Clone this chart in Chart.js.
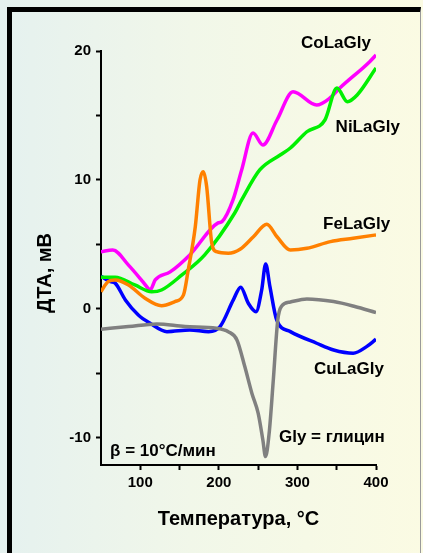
<!DOCTYPE html>
<html lang="ru">
<head>
<meta charset="utf-8">
<title>ДТА</title>
<script src="https://cdn.jsdelivr.net/npm/chart.js@4.4.1/dist/chart.umd.min.js"></script>
<style>
  html, body { margin: 0; padding: 0; }
  body {
    width: 423px; height: 553px; overflow: hidden; position: relative;
    background: linear-gradient(to right, #e5f1ef 0%, #f1f7e9 45%, #fbfbe3 100%);
  }
  #moldura {
    position: absolute; left: 7px; top: 7px; width: 408px; height: 560px;
    border-left: 5px solid #000; border-top: 5px solid #000; border-right: 1px solid #9a9a9a;
  }
  #g { position: absolute; left: 0; top: 0; }
</style>
</head>
<body>
<div id="moldura"></div>
<canvas id="g" width="423" height="553"></canvas>
<script>
// curvas de ДТА (x em °C, y em мВ)
const glyX = [50, 85, 121, 157, 197, 212, 223, 233, 242, 250, 256, 259.4, 264, 269, 275, 280, 291, 312, 346, 373, 400];
const glyY = [-1.57, -1.37, -1.16, -1.37, -1.5, -1.76, -2.4, -4.47, -6.53, -8.08, -10.16, -11.45, -9.64, -5.76, -0.85, 0.23, 0.54, 0.78, 0.57, 0.19, -0.28];

const feX = [50, 59, 68, 85, 106, 127, 144, 155, 161, 170, 176, 180.2, 184.5, 191, 197, 212, 227, 244, 261, 274, 291, 312, 342, 371, 400];
const feY = [1.34, 2.12, 2.25, 1.86, 0.83, 0.25, 0.57, 1.09, 3.02, 6.38, 10.0, 10.64, 9.48, 5.09, 4.44, 4.32, 4.63, 5.6, 6.57, 5.6, 4.57, 4.7, 5.22, 5.48, 5.74];

const niX = [50, 68, 93, 114.5, 127, 153, 182, 220, 229, 252, 278, 291, 312, 335, 350.3, 363.6, 376, 400];
const niY = [2.46, 2.46, 1.86, 1.34, 1.47, 2.64, 4.19, 7.42, 8.45, 10.78, 11.94, 12.48, 13.74, 14.65, 17.13, 16.07, 16.59, 18.68];

const coX = [50, 65, 85, 102, 110, 112.4, 119, 138, 163, 199, 204, 218, 229, 243.5, 256, 274, 294.4, 324.5, 341.5, 354, 392, 400];
const coY = [4.44, 4.57, 3.4, 2.2, 1.6, 1.45, 2.25, 2.87, 4.19, 6.67, 6.77, 8.45, 10.78, 13.64, 12.71, 14.65, 16.84, 15.81, 16.36, 17.13, 19.17, 19.69];

const cuX = [50, 62, 68, 81, 97.5, 112, 134, 163, 187, 201.5, 218.4, 227.8, 237.5, 247.3, 254.5, 259.6, 265, 273.6, 291, 324.5, 346, 371, 388, 400];
const cuY = [2.53, 2.12, 2.0, 0.7, -0.47, -1.09, -1.76, -1.63, -1.76, -1.37, 0.7, 1.69, 0.44, -0.21, 1.47, 3.49, 1.73, -0.85, -1.76, -2.66, -3.18, -3.43, -2.92, -2.35];

// eixos
const xTicks = [100, 150, 200, 250, 300, 350, 400];
const xLabels = [100, 200, 300, 400];
const yTicks = [-10, -5, 0, 5, 10, 15, 20];
const yLabels = [-10, 0, 10, 20];

// rótulos no gráfico (posição em unidades dos eixos)
const rotTxt = ['CoLaGly', 'NiLaGly', 'FeLaGly', 'CuLaGly', 'Gly = глицин', 'β = 10°C/мин'];
const rotX = [304.5, 348.6, 332.6, 321.1, 276.5, 61.5];
const rotY = [20.62, 14.1, 6.59, -4.65, -9.98, -11.06];

const FONTE = '"Liberation Sans", Arial, sans-serif';
const pts = (xs, ys) => xs.map((x, i) => ({ x, y: ys[i] }));
const serie = (label, xs, ys, cor) => ({
  label, data: pts(xs, ys), borderColor: cor, borderWidth: 3.5,
  pointRadius: 0, cubicInterpolationMode: 'monotone', fill: false,
});

const textos = {
  id: 'textos',
  afterDatasetsDraw(chart) {
    const { ctx, scales: { x, y } } = chart;
    ctx.save();
    ctx.fillStyle = '#000';
    ctx.textBaseline = 'middle';
    ctx.textAlign = 'left';
    ctx.font = 'bold 17px ' + FONTE;
    rotTxt.forEach((t, i) => ctx.fillText(t, x.getPixelForValue(rotX[i]), y.getPixelForValue(rotY[i])));
    ctx.font = 'bold 20px ' + FONTE;
    ctx.textAlign = 'center';
    ctx.fillText('Температура, °C', (x.left + x.right) / 2, 519);
    ctx.translate(45, 273);
    ctx.rotate(-Math.PI / 2);
    ctx.fillText('ДТА, мВ', 0, 0);
    ctx.restore();
  }
};

const eixo = (ticks, labels) => ({
  type: 'linear',
  border: { display: true, color: '#000', width: 2 },
  grid: { drawOnChartArea: false, drawTicks: true, tickLength: 5, tickWidth: 2, tickColor: '#000' },
  afterBuildTicks: (s) => { s.ticks = ticks.map(v => ({ value: v })); },
  ticks: {
    autoSkip: false, color: '#000', padding: 4,
    font: { family: FONTE, size: 15, weight: 'bold' },
    callback: (v) => labels.includes(v) ? String(v) : '',
  },
});

const sx = eixo(xTicks, xLabels);
sx.min = 50; sx.max = 400;
sx.afterFit = (s) => { s.height = 88; };
const sy = eixo(yTicks, yLabels);
sy.min = -12.1; sy.max = 20;
sy.ticks.padding = 5;
sy.afterFit = (s) => { s.width = 101; };

new Chart(document.getElementById('g'), {
  type: 'line',
  data: {
    datasets: [
      serie('Gly', glyX, glyY, '#808080'),
      serie('FeLaGly', feX, feY, '#ff8000'),
      serie('NiLaGly', niX, niY, '#00f000'),
      serie('CoLaGly', coX, coY, '#ff00ff'),
      serie('CuLaGly', cuX, cuY, '#0000ff'),
    ],
  },
  options: {
    responsive: false,
    animation: false,
    devicePixelRatio: 1,
    layout: { padding: { left: 0, top: 51, right: 47, bottom: 0 } },
    plugins: { legend: { display: false }, tooltip: { enabled: false } },
    scales: { x: sx, y: sy },
  },
  plugins: [textos],
});
</script>
</body>
</html>
